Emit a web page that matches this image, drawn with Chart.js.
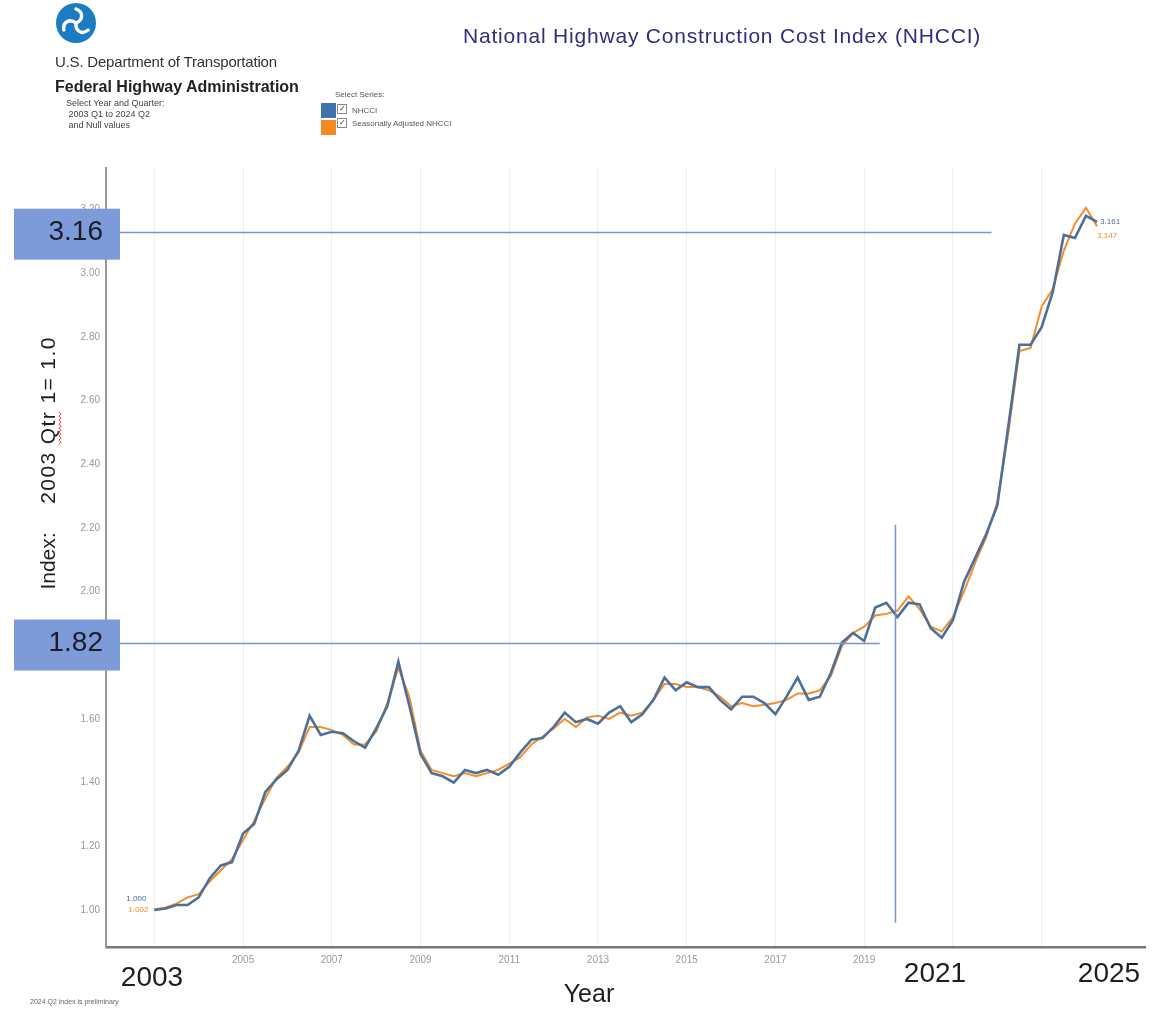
<!DOCTYPE html>
<html>
<head>
<meta charset="utf-8">
<title>National Highway Construction Cost Index (NHCCI)</title>
<script src="https://cdn.jsdelivr.net/npm/chart.js@4.4.1/dist/chart.umd.min.js"></script>
<style>
  body { margin: 0; background: #fff; font-family: Arial, "Liberation Sans", sans-serif; }
  #wrap { position: relative; width: 1160px; height: 1011px; overflow: hidden; background: #fff; }
  #chart { position: absolute; left: 0; top: 0; }
  .abs { position: absolute; white-space: nowrap; }
  .dot1 { left: 55px; top: 53px; font-size: 15px; color: #333; letter-spacing: -0.2px; }
  .dot2 { left: 55px; top: 78px; font-size: 16px; font-weight: bold; color: #222; }
  .sel { left: 66px; top: 98px; font-size: 9px; line-height: 11px; color: #444; }
  .title { left: 463px; top: 24px; font-size: 21px; letter-spacing: 0.8px; color: #2e2f7c; }
  .leg { font-size: 8px; color: #555; }
  .sq { position: absolute; width: 15px; height: 15px; }
  .cb { position: absolute; width: 8px; height: 8px; border: 1px solid #888; background: #fff; font-size: 8px; line-height: 8px; text-align: center; color: #333; }
</style>
</head>
<body>
<div id="wrap">
  <canvas id="chart" width="1160" height="1011"></canvas>

  <svg class="abs" style="left:55px;top:2px" width="42" height="42" viewBox="0 0 42 42">
    <circle cx="21" cy="21" r="20" fill="#1b7cc4"/>
    <g fill="none" stroke="#fff" stroke-width="3.4" stroke-linecap="round">
      <path d="M21 7 C 29 10, 28 18, 21 21"/>
      <path d="M21 7 C 29 10, 28 18, 21 21" transform="rotate(120 21 21)"/>
      <path d="M21 7 C 29 10, 28 18, 21 21" transform="rotate(240 21 21)"/>
    </g>
  </svg>
  <div class="abs dot1">U.S. Department of Transportation</div>
  <div class="abs dot2">Federal Highway Administration</div>
  <div class="abs sel">Select Year and Quarter:<br>&nbsp;2003 Q1 to 2024 Q2<br>&nbsp;and Null values</div>
  <div class="abs title">National Highway Construction Cost Index (NHCCI)</div>

  <div class="abs leg" style="left:335px;top:90px">Select Series:</div>
  <div class="sq" style="left:321px;top:103px;background:#3f73ad"></div>
  <div class="cb" style="left:337px;top:104px">&#10003;</div>
  <div class="abs leg" style="left:352px;top:106px">NHCCI</div>
  <div class="sq" style="left:321px;top:120px;background:#f58a1f"></div>
  <div class="cb" style="left:337px;top:118px">&#10003;</div>
  <div class="abs leg" style="left:352px;top:119px">Seasonally Adjusted NHCCI</div>

  <div class="abs" style="left:30px;top:998px;font-size:7px;color:#666">2024 Q2 index is preliminary</div>
</div>

<script>
// Quartale 2003 Q1 .. 2024 Q2
const years = [2003, 2004, 2005, 2006, 2007, 2008, 2009, 2010, 2011, 2012, 2013,
               2014, 2015, 2016, 2017, 2018, 2019, 2020, 2021, 2022, 2023, 2024];
const quarters = [];
years.forEach(y => [1, 2, 3, 4].forEach(q => {
    if (y === 2024 && q > 2) return;
    quarters.push({ year: y, q: q });
}));

// NHCCI (2003 Q1 = 1.0)
const nhcci = [
    1.000, 1.005, 1.016, 1.016,
    1.040, 1.100, 1.140, 1.150,
    1.240, 1.270, 1.370, 1.410,
    1.440, 1.500, 1.610, 1.550,
    1.560, 1.555, 1.530, 1.510,
    1.570, 1.640, 1.780, 1.640,
    1.490, 1.430, 1.420, 1.400,
    1.440, 1.430, 1.440, 1.425,
    1.450, 1.495, 1.535, 1.540,
    1.575, 1.620, 1.590, 1.600,
    1.585, 1.620, 1.640, 1.590,
    1.615, 1.660, 1.730, 1.690,
    1.715, 1.700, 1.700, 1.660,
    1.630, 1.670, 1.670, 1.650,
    1.615, 1.670, 1.730, 1.660,
    1.670, 1.745, 1.840, 1.870,
    1.845, 1.950, 1.965, 1.920,
    1.965, 1.960, 1.885, 1.855,
    1.910, 2.030, 2.105, 2.180,
    2.270, 2.520, 2.775, 2.775,
    2.830, 2.940, 3.120, 3.110,
    3.180, 3.161
];

// Seasonally Adjusted NHCCI
const nhcciSA = [
    1.002, 1.008, 1.020, 1.040,
    1.050, 1.090, 1.125, 1.160,
    1.220, 1.280, 1.350, 1.415,
    1.450, 1.495, 1.575, 1.575,
    1.565, 1.550, 1.520, 1.520,
    1.560, 1.650, 1.760, 1.670,
    1.500, 1.440, 1.430, 1.420,
    1.430, 1.420, 1.430, 1.440,
    1.460, 1.480, 1.520, 1.545,
    1.570, 1.600, 1.575, 1.605,
    1.610, 1.600, 1.620, 1.610,
    1.620, 1.660, 1.710, 1.710,
    1.700, 1.700, 1.690, 1.670,
    1.640, 1.650, 1.640, 1.645,
    1.650, 1.660, 1.680, 1.680,
    1.690, 1.735, 1.830, 1.870,
    1.890, 1.925, 1.930, 1.940,
    1.985, 1.945, 1.890, 1.875,
    1.920, 2.000, 2.090, 2.170,
    2.280, 2.500, 2.755, 2.765,
    2.895, 2.950, 3.070, 3.155,
    3.205, 3.147
];

const gridYears = [2003, 2005, 2007, 2009, 2011, 2013, 2015, 2017, 2019, 2021, 2023];
const labeledYears = [2005, 2007, 2009, 2011, 2013, 2015, 2017, 2019];
const yTicks = [1.0, 1.2, 1.4, 1.6, 1.8, 2.0, 2.2, 2.4, 2.6, 2.8, 3.0, 3.2];

// handgezeichnete Markierungen im Bild
const markLabels = ['3.16', '1.82'];
const markLevels = [3.13, 1.84];
const markEnds = [2021.87, 2019.35];
const markYear = 2019.7;
const markYearRange = [0.96, 2.21];

const toPoints = arr => arr.map((v, i) => ({ x: quarters[i].year + (quarters[i].q - 1) / 4, y: v }));

const BLUE = '#4d6f98';
const ORANGE = '#f28e2b';
const MARK = '#7395d8';

const overlay = {
    id: 'overlay',
    afterDraw(chart) {
        const { ctx, chartArea, scales: { x, y } } = chart;
        ctx.save();

        // Linien
        ctx.strokeStyle = MARK;
        ctx.lineWidth = 1.5;
        markLevels.forEach((lv, i) => {
            const py = Math.round(y.getPixelForValue(lv)) + 0.5;
            ctx.beginPath();
            ctx.moveTo(chartArea.left - 3, py);
            ctx.lineTo(x.getPixelForValue(markEnds[i]), py);
            ctx.stroke();
        });
        const vx = Math.round(x.getPixelForValue(markYear)) + 0.5;
        ctx.beginPath();
        ctx.moveTo(vx, y.getPixelForValue(markYearRange[1]));
        ctx.lineTo(vx, y.getPixelForValue(markYearRange[0]));
        ctx.stroke();

        // Kästen
        markLevels.forEach((lv, i) => {
            const py = y.getPixelForValue(lv);
            ctx.fillStyle = '#7c9bd8';
            ctx.fillRect(14, py - 23, 106, 51);
            ctx.fillStyle = '#1c1c2a';
            ctx.font = '28px Arial, "Liberation Sans"';
            ctx.textAlign = 'right';
            ctx.textBaseline = 'middle';
            ctx.fillText(markLabels[i], 103, py + 1);
        });

        // Werte am Anfang und Ende
        const first = { x: x.getPixelForValue(2003), yb: y.getPixelForValue(nhcci[0]), yo: y.getPixelForValue(nhcciSA[0]) };
        const lastQ = quarters[quarters.length - 1];
        const lx = x.getPixelForValue(lastQ.year + (lastQ.q - 1) / 4);
        ctx.font = '8px Arial, "Liberation Sans"';
        ctx.textBaseline = 'middle';
        ctx.textAlign = 'right';
        ctx.fillStyle = BLUE;
        ctx.fillText(nhcci[0].toFixed(3), first.x - 8, first.yb - 11);
        ctx.fillStyle = ORANGE;
        ctx.fillText(nhcciSA[0].toFixed(3), first.x - 6, first.yo);
        ctx.textAlign = 'left';
        ctx.fillStyle = BLUE;
        ctx.fillText(nhcci[nhcci.length - 1].toFixed(3), lx + 3, y.getPixelForValue(nhcci[nhcci.length - 1]));
        ctx.fillStyle = ORANGE;
        ctx.fillText(nhcciSA[nhcciSA.length - 1].toFixed(3), lx, y.getPixelForValue(nhcciSA[nhcciSA.length - 1]) + 10);

        // große Beschriftungen
        ctx.fillStyle = '#1e1e1e';
        ctx.textAlign = 'center';
        ctx.textBaseline = 'middle';
        ctx.font = '28px Arial, "Liberation Sans"';
        ctx.fillText('2003', 152, 978);
        ctx.fillText('2021', 935, 974);
        ctx.fillText('2025', 1109, 974);
        ctx.font = '25px Arial, "Liberation Sans"';
        ctx.fillText('Year', 589, 995);

        // Achsentitel, gedreht
        ctx.save();
        ctx.translate(49, 0);
        ctx.rotate(-Math.PI / 2);
        ctx.font = '21px Arial, "Liberation Sans"';
        ctx.textAlign = 'center';
        ctx.fillText('Index:', -561, 0);
        ctx.letterSpacing = '1.4px';
        ctx.fillText('2003 Qtr 1= 1.0', -420, 0);
        // rote Wellenlinie unter "Qtr"
        const w = ctx.measureText('2003 Qtr 1= 1.0').width;
        const s = -420 - w / 2 + ctx.measureText('2003 ').width;
        const qw = ctx.measureText('Qtr').width;
        ctx.strokeStyle = '#e02020';
        ctx.lineWidth = 1;
        ctx.beginPath();
        for (let i = 0; i <= qw; i += 2) {
            ctx.lineTo(s + i, 10 + (i % 4 === 0 ? 0 : 2));
        }
        ctx.stroke();
        ctx.restore();

        ctx.restore();
    }
};

new Chart(document.getElementById('chart'), {
    type: 'line',
    data: {
        datasets: [
            {
                label: 'NHCCI',
                data: toPoints(nhcci),
                borderColor: BLUE,
                borderWidth: 2.6,
                pointRadius: 0,
                tension: 0
            },
            {
                label: 'Seasonally Adjusted NHCCI',
                data: toPoints(nhcciSA),
                borderColor: ORANGE,
                borderWidth: 2,
                pointRadius: 0,
                tension: 0
            }
        ]
    },
    options: {
        responsive: false,
        animation: false,
        layout: { padding: { top: 168, right: 15, left: 0, bottom: 0 } },
        plugins: {
            legend: { display: false },
            tooltip: { enabled: false }
        },
        scales: {
            x: {
                type: 'linear',
                min: 2001.91,
                max: 2025.33,
                afterBuildTicks: s => { s.ticks = gridYears.map(v => ({ value: v })); },
                afterFit: s => { s.height = 64; },
                grid: { color: '#ededed', drawTicks: false },
                border: { color: '#777', width: 2.5 },
                ticks: {
                    padding: 7,
                    autoSkip: false,
                    maxRotation: 0,
                    color: '#9a9a9a',
                    font: { size: 10, family: 'Arial, "Liberation Sans"' },
                    callback: v => labeledYears.includes(v) ? String(v) : ''
                }
            },
            y: {
                min: 0.884,
                max: 3.33,
                afterBuildTicks: s => { s.ticks = yTicks.map(v => ({ value: v })); },
                afterFit: s => { s.width = 106; },
                grid: { display: false, drawTicks: false, tickLength: 0 },
                border: { color: '#999', width: 2 },
                ticks: {
                    padding: 6,
                    color: '#9a9a9a',
                    font: { size: 10, family: 'Arial, "Liberation Sans"' },
                    callback: v => v.toFixed(2)
                }
            }
        }
    },
    plugins: [overlay]
});
</script>
</body>
</html>
